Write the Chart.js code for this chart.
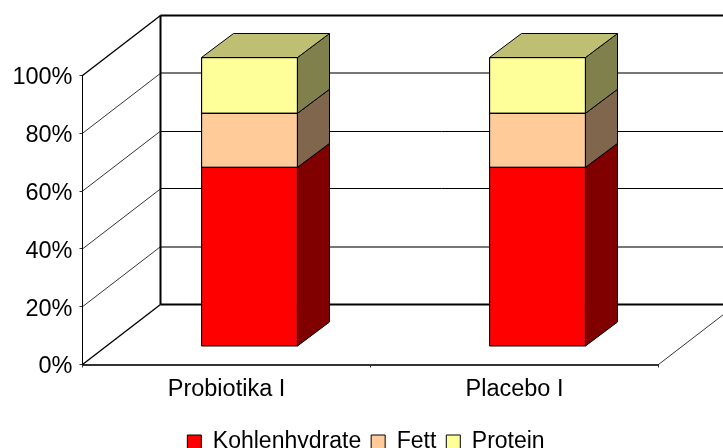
<!DOCTYPE html>
<html>
<head>
<meta charset="utf-8">
<style>
html, body { margin: 0; padding: 0; background: #fff; overflow: hidden; }
canvas { display: block; }
</style>
<script src="https://cdn.jsdelivr.net/npm/chart.js@4"></script>
</head>
<body>
<canvas id="chart" width="723" height="448"></canvas>
<script>
const categories = ['Probiotika I', 'Placebo I'];
const kohlenhydrate = [62, 62];
const fett = [18.7, 18.7];
const protein = [19.3, 19.3];
const yTicks = [0, 20, 40, 60, 80, 100];

// colours: front, side, top
const seriesColors = [
    ['#ff0000', '#800000', '#bf0000'],
    ['#ffcc99', '#80664d', '#bf9973'],
    ['#ffff99', '#80804d', '#bfbf73']
];

// pseudo 3D offsets
const wallDepth = { x: 78, y: -60 };
const barShift = { x: 23, y: -18 };
const barDepth = { x: 32, y: -24 };

function line(ctx, x1, y1, x2, y2, color, width) {
    ctx.beginPath();
    ctx.moveTo(x1, y1);
    ctx.lineTo(x2, y2);
    ctx.strokeStyle = color;
    ctx.lineWidth = width;
    ctx.stroke();
}

const box3d = {
    id: 'box3d',
    beforeDatasetsDraw(chart) {
        const ctx = chart.ctx;
        const area = chart.chartArea;
        const y = chart.scales.y;
        const backLeft = area.left + wallDepth.x;

        ctx.save();
        // back wall and side wall lines
        yTicks.forEach(function (t) {
            const py = y.getPixelForValue(t);
            const by = py + wallDepth.y;
            const edge = t === 0 || t === 100;
            line(ctx, area.left, py, backLeft, by, '#000', edge ? 1.4 : 0.8);
            if (edge) {
                line(ctx, backLeft, by, chart.width, by, '#000', 2);
            } else if (t === 20 || t === 80) {
                // these two fall between pixel rows in the original, so they look grey
                line(ctx, backLeft, Math.round(by), chart.width, Math.round(by), '#777', 2);
            } else {
                line(ctx, backLeft, Math.floor(by) + 0.5, chart.width, Math.floor(by) + 0.5, '#000', 1);
            }
        });
        line(ctx, backLeft, area.top + wallDepth.y, backLeft, area.bottom + wallDepth.y, '#000', 2);
        // floor edge on the right
        line(ctx, area.right, area.bottom, area.right + wallDepth.x, area.bottom + wallDepth.y, '#000', 0.8);
        ctx.restore();

        // native bars get drawn in the middle of the depth
        ctx.save();
        ctx.translate(barShift.x, barShift.y);
    },
    afterDatasetsDraw(chart) {
        const ctx = chart.ctx;
        chart.data.datasets.forEach(function (ds, i) {
            chart.getDatasetMeta(i).data.forEach(function (bar) {
                const l = bar.x - bar.width / 2;
                const r = bar.x + bar.width / 2;
                ctx.lineJoin = 'round';
                ctx.lineWidth = 1;
                ctx.strokeStyle = '#000';
                ctx.fillStyle = seriesColors[i][1];
                ctx.beginPath();
                ctx.moveTo(r, bar.y);
                ctx.lineTo(r + barDepth.x, bar.y + barDepth.y);
                ctx.lineTo(r + barDepth.x, bar.base + barDepth.y);
                ctx.lineTo(r, bar.base);
                ctx.closePath();
                ctx.fill();
                ctx.stroke();
                if (i === chart.data.datasets.length - 1) {
                    ctx.fillStyle = seriesColors[i][2];
                    ctx.beginPath();
                    ctx.moveTo(l, bar.y);
                    ctx.lineTo(l + barDepth.x, bar.y + barDepth.y);
                    ctx.lineTo(r + barDepth.x, bar.y + barDepth.y);
                    ctx.lineTo(r, bar.y);
                    ctx.closePath();
                    ctx.fill();
                    ctx.stroke();
                }
                // front outline on top of the native fill
                ctx.strokeRect(l, bar.y, bar.width, bar.base - bar.y);
            });
        });
        ctx.restore();
    }
};

new Chart(document.getElementById('chart'), {
    type: 'bar',
    data: {
        labels: categories,
        datasets: [
            { label: 'Kohlenhydrate', data: kohlenhydrate, backgroundColor: seriesColors[0][0] },
            { label: 'Fett', data: fett, backgroundColor: seriesColors[1][0] },
            { label: 'Protein', data: protein, backgroundColor: seriesColors[2][0] }
        ].map(function (ds) {
            return Object.assign(ds, { borderColor: '#000', borderWidth: 1, barThickness: 96, clip: false });
        })
    },
    plugins: [box3d],
    options: {
        responsive: false,
        animation: false,
        layout: { padding: { left: 9, top: 75.5, right: 0, bottom: -15.5 } },
        font: { family: '"Liberation Sans", Arial, sans-serif', size: 23.5 },
        scales: {
            x: {
                stacked: true,
                afterFit(scale) { scale.height = 56; },
                grid: { drawOnChartArea: false, tickLength: 3, color: '#333', tickWidth: 1 },
                border: { color: '#333', width: 2 },
                ticks: { color: '#000', padding: 8, maxRotation: 0, font: { size: 23.5 } }
            },
            y: {
                stacked: true,
                min: 0,
                max: 100,
                afterFit(scale) { scale.width = 73.5; },
                afterBuildTicks(scale) { scale.ticks = yTicks.map(function (v) { return { value: v }; }); },
                grid: { drawOnChartArea: false, tickLength: 3, color: '#333' },
                border: { color: '#000', width: 1 },
                ticks: {
                    color: '#000',
                    padding: 7,
                    labelOffset: 2.5,
                    font: { size: 23.5 },
                    callback: function (v) { return v + '%'; }
                }
            },
            // empty axis, only keeps the room on the right so the legend stays centred on the page
            spacer: {
                type: 'linear',
                position: 'right',
                afterFit(scale) { scale.width = 64.5; },
                grid: { display: false },
                border: { display: false },
                ticks: { display: false }
            }
        },
        plugins: {
            tooltip: { enabled: false },
            legend: {
                position: 'bottom',
                labels: {
                    boxWidth: 14,
                    boxHeight: 14,
                    padding: 10,
                    color: '#000',
                    font: { size: 23 }
                }
            }
        }
    }
});
</script>
</body>
</html>
